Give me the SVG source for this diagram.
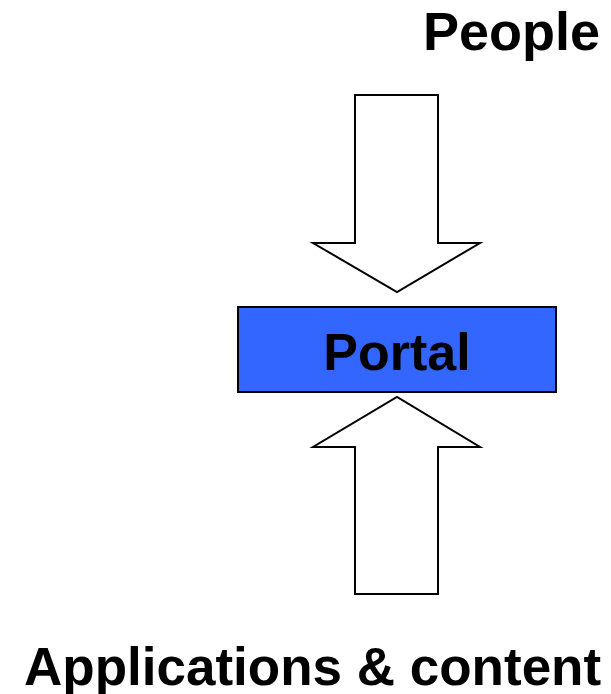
<svg xmlns="http://www.w3.org/2000/svg" width="611" height="694" viewBox="0 0 611 694">
<style>
text{font-family:"Liberation Sans",Arial,sans-serif;font-weight:bold;font-size:54px;fill:#000}
.arrow{fill:#fff;stroke:#000;stroke-width:2;stroke-linejoin:miter}
</style>
<rect width="611" height="694" fill="#fff"/>
<g id="people">
<text x="600" y="50" text-anchor="end">People</text>
</g>
<g id="portal">
<rect x="238" y="307" width="318" height="85" fill="#3366FF" stroke="#000" stroke-width="2"/>
<text x="397" y="370" text-anchor="middle" style="font-size:52px">Portal</text>
</g>
<g id="apps">
<text x="24" y="685" style="font-size:53px">Applications &amp; content</text>
</g>
<g id="connectors">
<polygon class="arrow" points="355,95 438,95 438,243 480,243 397,292 313,243 355,243"/>
<polygon class="arrow" points="355,594 438,594 438,447 480,447 397,397 313,447 355,447"/>
</g>
</svg>
